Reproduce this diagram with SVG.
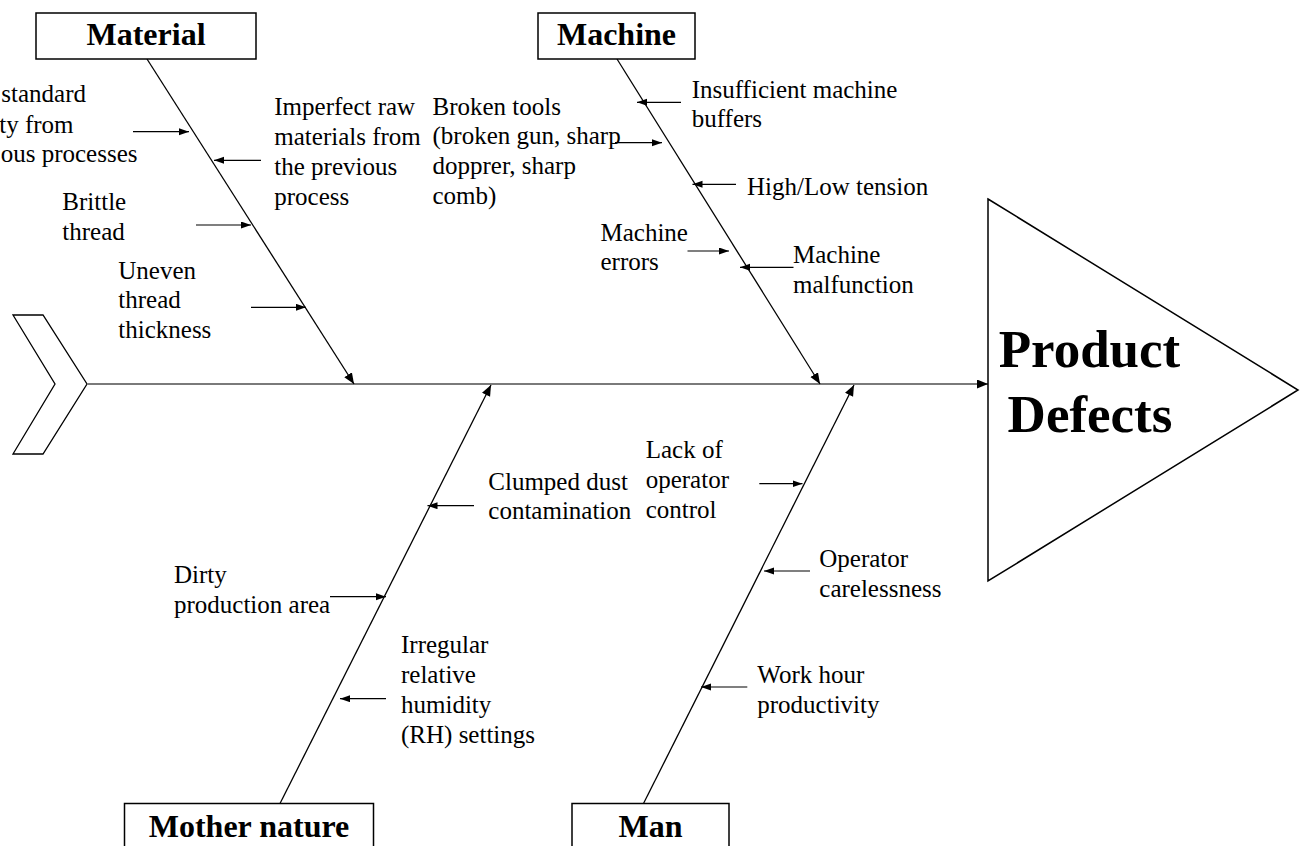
<svg xmlns="http://www.w3.org/2000/svg" width="1303" height="846" viewBox="0 0 1303 846">
<defs>
<style>
.t{font-family:"Liberation Serif","Times New Roman",serif;font-size:25px;fill:#000}
.h{font-family:"Liberation Serif","Times New Roman",serif;font-size:32px;font-weight:bold;fill:#000;text-anchor:middle}
.box{fill:#fff;stroke:#000;stroke-width:1.5}
.br{stroke:#000;stroke-width:1.3;fill:none}
.sub{stroke:#000;stroke-width:1.2;fill:none}
</style>
<marker id="ah" markerUnits="userSpaceOnUse" markerWidth="12" markerHeight="10" refX="11" refY="4.5" orient="auto">
<path d="M0,0 L11,4.5 L0,9 z" fill="#000"/>
</marker>
<marker id="sa" markerUnits="userSpaceOnUse" markerWidth="11" markerHeight="8" refX="10" refY="3.5" orient="auto">
<path d="M0,0 L10,3.5 L0,7 z" fill="#000"/>
</marker>
</defs>
<rect width="1303" height="846" fill="#fff"/>

<g id="tail">
<polygon points="13,315 43,315 87,384 43,454 13,454 55,384" fill="#fff" stroke="#000" stroke-width="1.3"/>
</g>

<g id="connectors">
<line x1="87" y1="384" x2="988" y2="384" stroke="#7a7a7a" stroke-width="2" marker-end="url(#ah)"/>
<line class="br" x1="147" y1="59" x2="354" y2="384" marker-end="url(#ah)"/>
<line class="br" x1="617" y1="59" x2="820" y2="384" marker-end="url(#ah)"/>
<line class="br" x1="280" y1="803.5" x2="491" y2="385" marker-end="url(#ah)"/>
<line class="br" x1="643.5" y1="803.5" x2="854" y2="385" marker-end="url(#ah)"/>

<line class="sub" x1="133" y1="131.7" x2="189" y2="131.7" marker-end="url(#sa)"/>
<line class="sub" x1="261" y1="160.3" x2="214" y2="160.3" marker-end="url(#sa)"/>
<line class="sub" x1="196" y1="225" x2="251" y2="225" marker-end="url(#sa)"/>
<line class="sub" x1="251" y1="307.3" x2="306" y2="307.3" marker-end="url(#sa)"/>

<line class="sub" x1="681" y1="102.3" x2="637" y2="102.3" marker-end="url(#sa)"/>
<line class="sub" x1="615" y1="142.7" x2="662" y2="142.7" marker-end="url(#sa)"/>
<line class="sub" x1="736" y1="184.3" x2="692.5" y2="184.3" marker-end="url(#sa)"/>
<line class="sub" x1="687.5" y1="251" x2="729" y2="251" marker-end="url(#sa)"/>
<line class="sub" x1="793.5" y1="267.3" x2="740" y2="267.3" marker-end="url(#sa)"/>

<line class="sub" x1="474" y1="505.7" x2="427.5" y2="505.7" marker-end="url(#sa)"/>
<line class="sub" x1="330" y1="596.7" x2="386" y2="596.7" marker-end="url(#sa)"/>
<line class="sub" x1="386" y1="698.7" x2="340" y2="698.7" marker-end="url(#sa)"/>

<line class="sub" x1="759.3" y1="483.7" x2="802.5" y2="483.7" marker-end="url(#sa)"/>
<line class="sub" x1="810" y1="571" x2="764" y2="571" marker-end="url(#sa)"/>
<line class="sub" x1="747.3" y1="687" x2="701" y2="687" marker-end="url(#sa)"/>
</g>

<g id="material">
<rect class="box" x="36" y="13" width="220" height="46"/>
<text class="h" x="146" y="45">Material</text>
</g>
<g id="machine">
<rect class="box" x="538" y="13" width="157" height="46"/>
<text class="h" x="616.5" y="45">Machine</text>
</g>
<g id="mother-nature">
<rect class="box" x="124.5" y="803.5" width="249" height="60"/>
<text class="h" x="249" y="836.5">Mother nature</text>
</g>
<g id="man">
<rect class="box" x="572" y="803.5" width="157" height="60"/>
<text class="h" x="650.5" y="836.5">Man</text>
</g>

<g id="product-defects">
<polygon points="988,199 1298,390 988,581" fill="#fff" stroke="#000" stroke-width="1.5"/>
<text x="1089.5" y="367" font-family="Liberation Serif, Times New Roman, serif" font-size="53" font-weight="bold" text-anchor="middle">Product</text>
<text x="1090" y="432" font-family="Liberation Serif, Times New Roman, serif" font-size="53" font-weight="bold" text-anchor="middle">Defects</text>
</g>

<g id="material-causes">
<text class="t" x="86" y="102" text-anchor="end">standard</text>
<text class="t" x="73.5" y="132.5" text-anchor="end">ty from</text>
<text class="t" x="137.5" y="162" text-anchor="end">ous processes</text>
<text class="t" x="274.3" y="115">Imperfect raw</text>
<text class="t" x="274.3" y="145">materials from</text>
<text class="t" x="274.3" y="175">the previous</text>
<text class="t" x="274.3" y="204.5">process</text>
<text class="t" x="62.3" y="210">Brittle</text>
<text class="t" x="62.3" y="240">thread</text>
<text class="t" x="118.3" y="278.5">Uneven</text>
<text class="t" x="118.3" y="308.3">thread</text>
<text class="t" x="118.3" y="338.3">thickness</text>
</g>

<g id="machine-causes">
<text class="t" x="432.5" y="114.5">Broken tools</text>
<text class="t" x="432.5" y="144.3">(broken gun, sharp</text>
<text class="t" x="432.5" y="174">dopprer, sharp</text>
<text class="t" x="432.5" y="203.5">comb)</text>
<text class="t" x="691.7" y="97.7">Insufficient machine</text>
<text class="t" x="691.7" y="127.3">buffers</text>
<text class="t" x="747" y="195">High/Low tension</text>
<text class="t" x="600.5" y="240.7">Machine</text>
<text class="t" x="600.5" y="270">errors</text>
<text class="t" x="793" y="263.3">Machine</text>
<text class="t" x="793" y="293.3">malfunction</text>
</g>

<g id="mother-nature-causes">
<text class="t" x="488.3" y="490">Clumped dust</text>
<text class="t" x="488.3" y="519.3">contamination</text>
<text class="t" x="174" y="583.3">Dirty</text>
<text class="t" x="174" y="613.3">production area</text>
<text class="t" x="401" y="653.3">Irregular</text>
<text class="t" x="401" y="683.3">relative</text>
<text class="t" x="401" y="713.3">humidity</text>
<text class="t" x="401" y="743.3">(RH) settings</text>
</g>

<g id="man-causes">
<text class="t" x="645.7" y="458.3">Lack of</text>
<text class="t" x="645.7" y="488.3">operator</text>
<text class="t" x="645.7" y="518.3">control</text>
<text class="t" x="819.3" y="566.5">Operator</text>
<text class="t" x="819.3" y="596.5">carelessness</text>
<text class="t" x="757.3" y="683.3">Work hour</text>
<text class="t" x="757.3" y="713">productivity</text>
</g>
</svg>
